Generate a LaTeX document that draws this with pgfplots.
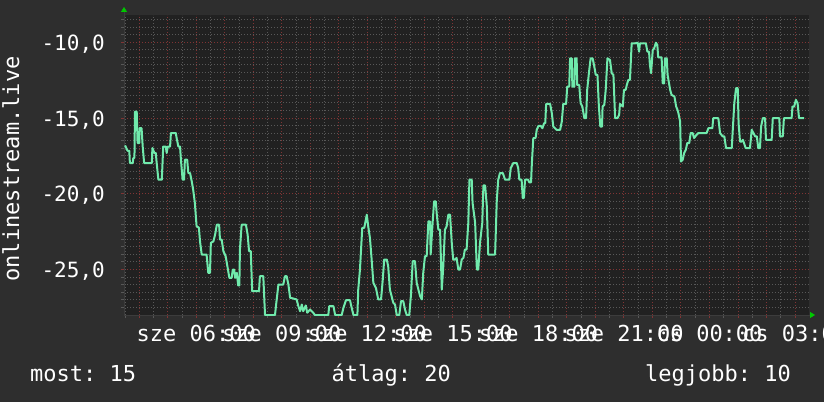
\documentclass[border=0pt]{standalone}
\usepackage{fontspec}
\setmainfont{DejaVu Sans Mono}
\usepackage{pgfplots}
\pgfplotsset{compat=1.18}
\usetikzlibrary{arrows.meta}
\definecolor{bgout}{RGB}{46,46,46}
\definecolor{bgplot}{RGB}{33,33,33}
\definecolor{gridminor}{RGB}{88,88,88}
\definecolor{gridmajor}{RGB}{128,52,52}
\definecolor{linec}{RGB}{112,234,172}
\definecolor{arrowg}{RGB}{0,200,0}
\definecolor{axisc}{RGB}{60,60,60}
\frenchspacing
\begin{document}
\begin{tikzpicture}[x=1pt,y=1pt]
\useasboundingbox (0,0) rectangle (824,402);
\fill[bgout] (0,0) rectangle (824,402);
\begin{axis}[
  at={(124pt,87pt)}, anchor=south west,
  scale only axis, width=685pt, height=300pt,
  xmin=3.464, xmax=27.49, ymin=-28, ymax=-8.2,
  axis background/.style={fill=bgplot},
  axis lines=left,
  x axis line style={draw=axisc, shorten >=-6pt, -{Triangle[length=5pt,width=6pt,color=arrowg]}},
  y axis line style={draw=axisc, shorten >=-8pt, -{Triangle[length=5pt,width=6pt,color=arrowg]}},
  xtick={4,5,...,27},
  xticklabels={{},{},{sze 06:00},{},{},{sze 09:00},{},{},{sze 12:00},{},{},{sze 15:00},{},{},{sze 18:00},{},{},{sze 21:00},{},{},{cs 00:00},{},{},{cs 03:00}},
  minor xtick={3.5,4.5,...,27.5},
  ytick={-25,-20,-15,-10},
  yticklabels={{-25,0},{-20,0},{-15,0},{-10,0}},
  minor ytick={-27.5,-27,...,-8.5},
  grid=both,
  major grid style={draw=gridmajor, dash pattern=on 1pt off 2pt, line width=1pt},
  minor grid style={draw=gridminor, dash pattern=on 1pt off 2pt, line width=1pt},
  tick align=outside,
  major tick length=3pt, minor tick length=3pt,
  major tick style={draw=gridmajor, line width=1pt},
  minor tick style={draw=gridminor, line width=1pt},
  every tick label/.append style={font=\fontsize{22}{26}\selectfont, text=white},
  xticklabel style={anchor=base, inner sep=0pt, yshift=-23.3pt},
  yticklabel style={anchor=base east, inner sep=0pt, xshift=-16pt, yshift=-8pt, font=\fontsize{21}{25}\selectfont},
  clip=true,
]
\addplot[color=linec, line width=2pt, line join=round, mark=none] coordinates {
(3.50,-16.81)(3.59,-17.16)(3.65,-17.16)(3.67,-17.97)(3.77,-17.97)(3.79,-17.64)(3.83,-17.64)
(3.85,-14.57)(3.91,-14.57)(3.94,-16.65)(4.00,-16.65)(4.01,-15.67)(4.08,-15.67)(4.12,-16.88)
(4.17,-17.97)(4.44,-17.97)(4.46,-16.98)(4.53,-17.31)(4.58,-17.31)(4.61,-17.97)(4.67,-19.07)
(4.79,-19.07)(4.84,-16.88)(4.93,-16.88)(4.96,-17.31)(5.00,-16.88)(5.08,-16.88)(5.11,-15.99)
(5.28,-15.99)(5.31,-16.32)(5.37,-16.88)(5.43,-16.88)(5.46,-17.75)(5.52,-19.07)(5.57,-19.07)
(5.60,-17.75)(5.68,-17.75)(5.72,-18.63)(5.78,-18.63)(5.84,-19.18)(5.89,-19.73)(5.95,-20.61)
(6.01,-22.15)(6.09,-22.23)(6.13,-23.14)(6.19,-24.01)(6.36,-24.01)(6.42,-25.22)(6.48,-25.22)
(6.51,-23.24)(6.60,-23.14)(6.66,-22.69)(6.72,-22.04)(6.80,-22.04)(6.83,-23.02)(6.89,-23.02)
(6.95,-23.79)(7.03,-24.12)(7.09,-24.78)(7.16,-25.55)(7.24,-25.55)(7.28,-25.00)(7.33,-25.00)
(7.36,-25.55)(7.42,-25.22)(7.47,-26.05)(7.51,-26.05)(7.53,-23.68)(7.59,-22.04)(7.74,-22.04)
(7.80,-22.69)(7.85,-23.79)(7.91,-23.79)(7.96,-26.43)(8.20,-26.43)(8.23,-25.44)(8.35,-25.44)
(8.41,-28.00)(8.76,-28.00)(8.80,-27.30)(8.88,-25.99)(9.05,-25.99)(9.11,-25.44)(9.17,-25.44)
(9.23,-25.99)(9.29,-26.86)(9.52,-26.97)(9.58,-27.42)(9.64,-27.75)(9.70,-27.31)(9.75,-27.75)
(9.84,-27.37)(9.89,-27.85)(9.99,-27.64)(10.10,-27.85)(10.16,-28.00)(10.63,-28.00)(10.66,-27.42)
(10.81,-27.42)(10.87,-28.00)(11.10,-28.00)(11.16,-27.53)(11.25,-27.02)(11.39,-27.02)(11.45,-27.53)
(11.51,-28.00)(11.65,-28.00)(11.68,-26.32)(11.74,-25.00)(11.82,-22.25)(11.89,-22.25)(11.98,-21.38)
(12.03,-22.15)(12.09,-22.91)(12.15,-24.34)(12.21,-25.88)(12.30,-26.21)(12.38,-26.97)(12.48,-26.97)
(12.54,-25.66)(12.59,-24.34)(12.68,-24.34)(12.73,-24.78)(12.79,-26.32)(12.91,-27.20)(12.97,-27.31)
(13.03,-28.00)(13.12,-28.00)(13.18,-27.09)(13.26,-27.09)(13.32,-27.64)(13.38,-28.00)(13.47,-28.00)
(13.53,-26.65)(13.59,-24.45)(13.67,-24.45)(13.73,-25.88)(13.79,-26.32)(13.85,-26.76)(13.91,-26.97)
(13.96,-25.22)(14.02,-24.12)(14.08,-24.12)(14.14,-21.82)(14.20,-21.82)(14.22,-24.01)(14.28,-22.15)
(14.34,-20.50)(14.40,-20.50)(14.43,-21.27)(14.49,-22.37)(14.55,-22.37)(14.61,-26.32)(14.66,-24.89)
(14.72,-22.37)(14.78,-22.15)(14.84,-21.38)(14.90,-21.38)(14.96,-23.24)(15.01,-24.34)(15.07,-24.34)
(15.13,-24.23)(15.19,-25.00)(15.25,-25.00)(15.31,-24.34)(15.37,-24.23)(15.42,-23.68)(15.48,-23.68)
(15.54,-21.92)(15.58,-19.07)(15.66,-19.07)(15.69,-20.60)(15.78,-21.92)(15.84,-25.00)(15.89,-25.00)
(15.95,-23.24)(16.03,-21.92)(16.07,-19.45)(16.13,-19.45)(16.19,-20.83)(16.24,-24.01)(16.48,-24.01)
(16.54,-20.39)(16.59,-19.07)(16.65,-18.63)(16.75,-18.63)(16.83,-19.07)(16.98,-19.07)(17.03,-18.30)
(17.12,-17.97)(17.24,-17.97)(17.29,-18.30)(17.33,-19.07)(17.41,-19.07)(17.45,-20.28)(17.49,-20.28)
(17.53,-19.07)(17.64,-19.07)(17.68,-19.25)(17.74,-19.25)(17.77,-17.97)(17.82,-16.32)(17.90,-16.32)
(17.94,-15.78)(18.00,-15.52)(18.08,-15.52)(18.14,-15.67)(18.20,-15.34)(18.24,-15.34)(18.27,-14.07)
(18.41,-14.07)(18.47,-14.68)(18.52,-15.56)(18.64,-15.78)(18.76,-15.78)(18.82,-15.23)(18.87,-14.07)
(18.97,-14.07)(19.01,-12.93)(19.08,-12.93)(19.11,-11.06)(19.17,-11.06)(19.19,-12.93)(19.26,-12.93)
(19.28,-11.06)(19.34,-11.06)(19.36,-12.82)(19.43,-12.82)(19.48,-14.02)(19.54,-14.24)(19.61,-15.01)
(19.67,-15.01)(19.71,-13.14)(19.77,-12.04)(19.83,-11.06)(19.90,-11.06)(19.95,-11.50)(20.01,-12.15)
(20.07,-12.15)(20.12,-14.24)(20.17,-15.56)(20.23,-15.56)(20.25,-14.24)(20.31,-14.13)(20.36,-13.14)
(20.42,-11.06)(20.51,-11.17)(20.57,-12.04)(20.63,-12.15)(20.69,-15.01)(20.77,-15.01)(20.83,-14.80)
(20.86,-14.07)(20.96,-14.24)(21.00,-13.14)(21.06,-13.14)(21.10,-12.82)(21.15,-12.49)(21.21,-12.49)
(21.27,-10.07)(21.39,-10.07)(21.48,-10.03)(21.53,-10.62)(21.56,-10.07)(21.77,-10.07)(21.82,-10.62)
(21.88,-10.62)(21.91,-11.50)(21.95,-12.04)(22.01,-10.51)(22.06,-10.40)(22.12,-10.03)(22.17,-10.18)
(22.20,-10.99)(22.32,-10.99)(22.36,-12.71)(22.41,-12.71)(22.44,-11.06)(22.50,-11.06)(22.53,-12.15)
(22.62,-13.14)(22.67,-13.47)(22.77,-13.58)(22.83,-14.24)(22.87,-14.42)(22.91,-14.68)(22.97,-15.23)
(23.00,-17.87)(23.06,-17.76)(23.11,-17.31)(23.17,-17.09)(23.22,-16.65)(23.29,-16.65)(23.34,-15.99)
(23.41,-15.99)(23.46,-16.32)(23.55,-16.10)(23.61,-15.99)(23.90,-15.99)(23.96,-15.67)(24.10,-15.67)
(24.13,-15.01)(24.31,-15.01)(24.37,-15.99)(24.46,-16.21)(24.52,-16.21)(24.58,-16.98)(24.78,-16.98)
(24.81,-15.99)(24.87,-14.02)(24.93,-13.03)(24.99,-13.03)(25.02,-15.34)(25.07,-16.55)(25.13,-16.55)
(25.17,-16.44)(25.21,-16.65)(25.27,-16.98)(25.42,-16.98)(25.48,-15.78)(25.54,-15.99)(25.60,-16.21)
(25.66,-16.21)(25.71,-16.98)(25.77,-16.98)(25.81,-15.56)(25.87,-15.01)(25.95,-15.01)(25.98,-16.44)
(26.18,-16.44)(26.22,-15.01)(26.45,-15.01)(26.47,-16.21)(26.57,-16.21)(26.61,-15.01)(26.88,-15.01)
(26.91,-14.24)(26.97,-14.24)(27.03,-13.80)(27.09,-14.02)(27.14,-15.01)(27.32,-15.01)
};
\end{axis}
\node[rotate=90, anchor=base, inner sep=0pt, text=white, font=\fontsize{22}{26}\selectfont] at (19,233) {onlinestream.live};
\node[anchor=base west, inner sep=0pt, text=white, font=\fontsize{22}{26}\selectfont] at (30,21) {most: 15};
\node[anchor=base west, inner sep=0pt, text=white, font=\fontsize{22}{26}\selectfont] at (331.5,21) {átlag: 20};
\node[anchor=base west, inner sep=0pt, text=white, font=\fontsize{22}{26}\selectfont] at (645,21) {legjobb: 10};
\end{tikzpicture}
\end{document}
